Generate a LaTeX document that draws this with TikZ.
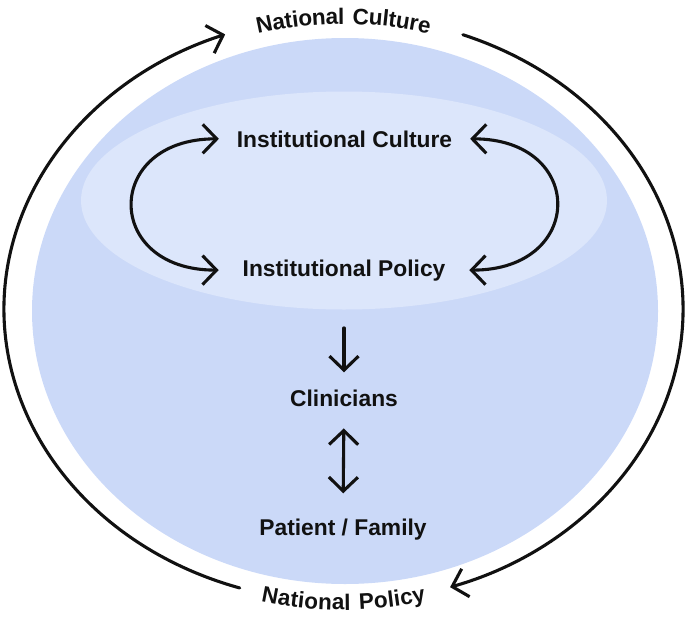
\documentclass[tikz,border=0pt]{standalone}
\usepackage{fontspec}
\setmainfont{Liberation Sans}
\newfontfamily\arcfont[LetterSpace=9]{Liberation Sans}
\usetikzlibrary{arrows.meta, decorations.text, calc, positioning}
\definecolor{ink}{HTML}{111111}
\definecolor{sea}{HTML}{CBD9F8}
\definecolor{seal}{HTML}{DCE6FB}
\tikzset{
  lbl/.style={font=\bfseries\fontsize{22.8}{27}\selectfont, text=ink, inner sep=0pt, anchor=base},
  ln/.style={draw=ink, line width=3.1pt, line cap=round, line join=round},
  tip/.style={-{Straight Barb[length=14pt, width=29pt]}},
  tips/.style={{Straight Barb[length=14pt, width=29pt]}-{Straight Barb[length=14pt, width=29pt]}},
  arctext/.style={decoration={text along path, text align=center, raise=-8pt,
      text={|\arcfont\bfseries\fontsize{22.5}{26}\selectfont\color{ink}|#1}}, decorate},
}
\begin{document}
\begin{tikzpicture}[x=1pt, y=-1pt]
  \useasboundingbox (0,0) rectangle (685,621);
  \fill[sea] (345,311) ellipse [x radius=313, y radius=273];
  \fill[seal] (344,200.5) ellipse [x radius=263, y radius=109];
  % national ring
  \coordinate (o) at (343.5,309);
  \draw[ln, tip] ($(o)+(107.8:339.5 and 293)$) arc[start angle=107.8, end angle=249.6, x radius=339.5, y radius=293];
  \draw[ln, tip] ($(o)+(-69.4:339.5 and 293)$) arc[start angle=-69.4, end angle=71.7, x radius=339.5, y radius=293];
  \path[arctext=National Culture] ($(o)+(250:339.5 and 293)$) arc[start angle=250, end angle=290, x radius=339.5, y radius=293];
  \path[arctext=National Policy] ($(o)+(108:339.5 and 293)$) arc[start angle=108, end angle=72, x radius=339.5, y radius=293];
  % levels
  \node[lbl, outer xsep=18pt] (ic) at (344.5,147) {Institutional Culture};
  \node[lbl, outer xsep=24pt] (ip) at (344,276) {Institutional Policy};
  \node[lbl] (cl) at (344,406) {Clinicians};
  \node[lbl] (pf) at (343,535) {Patient / Family};
  \draw[ln, tips] (ic.west) to[out=180, in=180, looseness=2.26] (ip.west);
  \draw[ln, tips] (ic.east) to[out=0, in=0, looseness=2.26] (ip.east);
  \draw[ln, tip, shorten <=47pt, shorten >=17pt] (ip.south) -- (cl.north);
  \draw[ln, tips, shorten <=22pt, shorten >=25pt] (cl.south) -- (pf.north);
\end{tikzpicture}
\end{document}
